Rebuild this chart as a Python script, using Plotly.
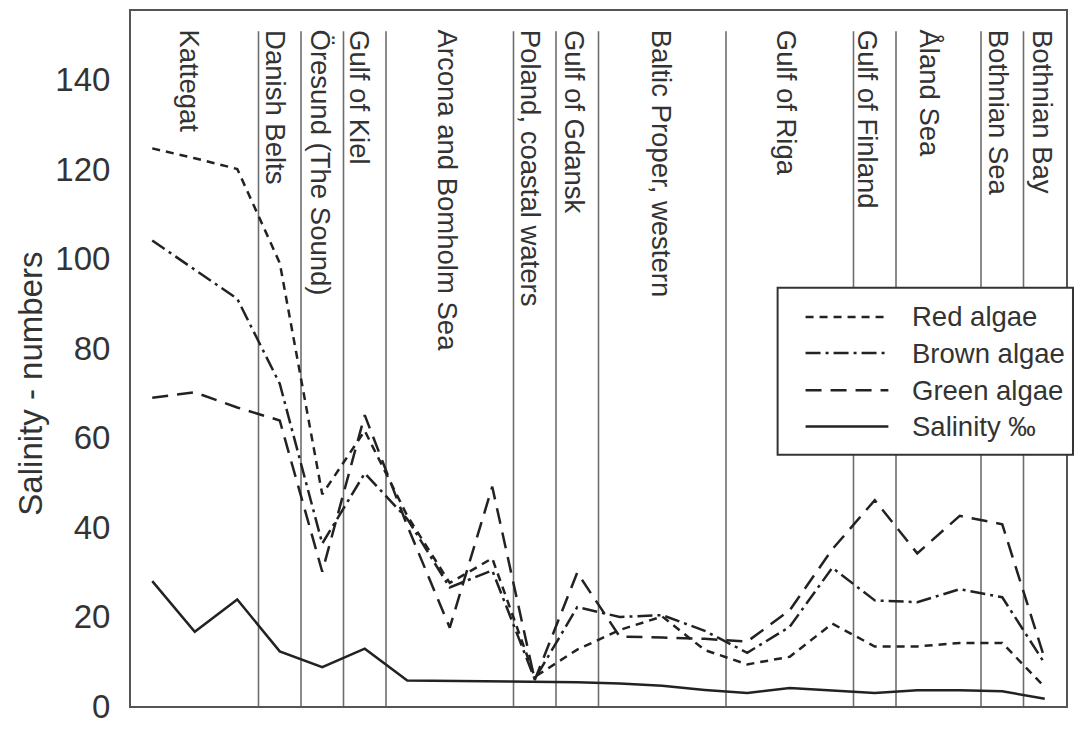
import plotly.graph_objects as go

# ---------------- data ----------------
stations = list(range(22))  # sampling stations along the Baltic transect

red_algae = [124.6, 122.4, 120.0, 99.0, 47.3, 61.5, 42.5, 27.5, 33.0, 6.5, 12.6, 17.0,
             20.0, 12.5, 9.3, 11.0, 18.4, 13.3, 13.3, 14.1, 14.1, 4.2]
brown_algae = [104.0, 97.6, 91.0, 72.0, 36.3, 52.0, 41.8, 26.5, 30.3, 6.0, 22.1, 19.9,
               20.3, 16.8, 11.9, 17.7, 30.9, 23.6, 23.2, 26.1, 24.3, 9.5]
green_algae = [68.9, 70.1, 66.7, 63.8, 30.0, 65.0, 40.3, 17.5, 49.0, 5.8, 29.8, 15.5,
               15.3, 15.0, 14.4, 21.4, 35.0, 46.0, 34.1, 42.5, 40.6, 10.5]
salinity = [27.9, 16.6, 23.8, 12.2, 8.7, 12.8, 5.7, 5.6, 5.6, 5.5, 5.3, 5.0,
            4.5, 3.6, 2.9, 4.0, 3.5, 2.9, 3.5, 3.5, 3.3, 1.6]

region_names = ["Kattegat", "Danish Belts", "Öresund (The Sound)", "Gulf of Kiel",
                "Arcona and Bomholm Sea", "Poland, coastal waters", "Gulf of Gdansk",
                "Baltic Proper, western", "Gulf of Riga", "Gulf of Finland",
                "Åland Sea", "Bothnian Sea", "Bothnian Bay"]
region_bounds = [2.5, 3.5, 4.5, 5.5, 8.5, 9.5, 10.5, 13.5, 16.5, 17.5, 19.5, 20.5]
region_label_x = [0.88, 2.9, 3.95, 4.89, 6.94, 8.92, 9.94, 11.98, 14.93, 16.85, 18.28, 19.92, 20.95]

y_ticks = [0, 20, 40, 60, 80, 100, 120, 140]

# ---------------- styles ----------------
FONT = "Liberation Sans, Arial, Helvetica, sans-serif"
INK = "#222222"
TXT = "#333333"
series = [
    ("Red algae", red_algae, "8px,6px"),
    ("Brown algae", brown_algae, "15px,5px,3px,5px"),
    ("Green algae", green_algae, "16px,9px"),
    ("Salinity \u2030", salinity, "solid"),
]

fig = go.Figure()
for name, vals, dash in series:
    fig.add_trace(go.Scatter(x=stations, y=vals, mode="lines", name=name,
                             line=dict(color=INK, width=2.5, dash=dash),
                             showlegend=False, hoverinfo="skip"))

Y_TOP = 155.3
SEP_TOP = 150.8

# plot area in page pixels
px_l, px_r, px_t, px_b = 131, 1068, 10, 721
def px2paper_x(px):
    return (px - px_l) / (px_r - px_l)
def px2paper_y(py):
    return (px_b - py) / (px_b - px_t)

# region separators
for b in region_bounds:
    fig.add_shape(type="line", xref="x", yref="y", x0=b, x1=b, y0=0, y1=SEP_TOP,
                  line=dict(color="#6e6e6e", width=1.6), layer="below")

# region labels (vertical text)
for name, xl in zip(region_names, region_label_x):
    fig.add_annotation(x=xl, y=px2paper_y(27), xref="x", yref="paper", text=name, textangle=90,
                       showarrow=False, xanchor="center", yanchor="top",
                       font=dict(family=FONT, size=27.5, color=TXT))

# legend box with long line samples, as in the original
fig.add_shape(type="rect", xref="paper", yref="paper",
              x0=px2paper_x(779), x1=px2paper_x(1075), y0=px2paper_y(464), y1=px2paper_y(293),
              line=dict(color="#333333", width=2), fillcolor="white", layer="above")
row_y = [323, 360, 398, 435]
for (name, vals, dash), ry in zip(series, row_y):
    fig.add_shape(type="line", xref="paper", yref="paper",
                  x0=px2paper_x(807), x1=px2paper_x(890), y0=px2paper_y(ry), y1=px2paper_y(ry),
                  line=dict(color=INK, width=2.5, dash=dash), layer="above")
    fig.add_annotation(x=px2paper_x(912), y=px2paper_y(ry), xref="paper", yref="paper",
                       text=name, showarrow=False, xanchor="left", yanchor="middle",
                       font=dict(family=FONT, size=27.5, color=TXT))

# y-axis title
fig.add_annotation(x=px2paper_x(30), y=px2paper_y(391), xref="paper", yref="paper",
                   text="Salinity - numbers", textangle=-90, showarrow=False,
                   xanchor="center", yanchor="middle",
                   font=dict(family=FONT, size=33, color=TXT))

fig.update_layout(
    width=1077, height=734,
    margin=dict(l=px_l, r=1077 - px_r, t=px_t, b=734 - px_b),
    paper_bgcolor="white", plot_bgcolor="white",
    font=dict(family=FONT, color=TXT),
    showlegend=False,
    xaxis=dict(range=[-0.5, 21.5], showgrid=False, zeroline=False, showticklabels=False,
               ticks="", showline=True, mirror=True, linecolor="#555555", linewidth=2),
    yaxis=dict(range=[0, Y_TOP], tickvals=y_ticks, showgrid=False, zeroline=False,
               ticks="", showline=True, mirror=True, linecolor="#555555", linewidth=2,
               tickfont=dict(family=FONT, size=33, color=TXT), ticklabelstandoff=12,
               ticklabeloverflow="allow"),
)

# remove the browser's default page margin so the figure sits at the window origin
fig.write_html("out.html", config={"displayModeBar": False},
               post_script="document.body.style.margin='0';")
